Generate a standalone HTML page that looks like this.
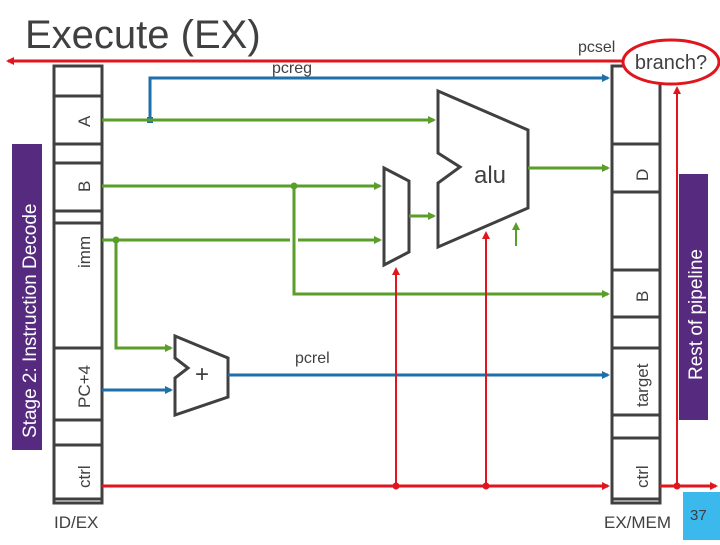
<!DOCTYPE html>
<html><head><style>
body{margin:0;width:720px;height:540px;background:#fff;overflow:hidden;font-family:"Liberation Sans",sans-serif}
</style></head><body>
<svg width="720" height="540" viewBox="0 0 720 540" xmlns="http://www.w3.org/2000/svg" font-family="Liberation Sans, sans-serif">
<defs>
<marker id="ag" markerWidth="8" markerHeight="8" refX="6" refY="4" orient="auto" markerUnits="userSpaceOnUse"><path d="M0,0 L8,4 L0,8 z" fill="#5a9e2a"/></marker>
<marker id="ab" markerWidth="8" markerHeight="8" refX="6" refY="4" orient="auto" markerUnits="userSpaceOnUse"><path d="M0,0 L8,4 L0,8 z" fill="#1f6fa8"/></marker>
<marker id="ar" markerWidth="8" markerHeight="8" refX="6" refY="4" orient="auto" markerUnits="userSpaceOnUse"><path d="M0,0 L8,4 L0,8 z" fill="#e0161e"/></marker>
</defs>
<text x="25" y="48" font-size="40" fill="#404040">Execute (EX)</text>
<rect x="12" y="144" width="30" height="306" fill="#562a7f"/>
<text transform="translate(36,438) rotate(-90)" font-size="19" fill="#fff">Stage 2: Instruction Decode</text>
<rect x="679" y="174" width="29" height="246" fill="#562a7f"/>
<text transform="translate(702,380) rotate(-90)" font-size="19" fill="#fff">Rest of pipeline</text>
<g fill="none" stroke="#404040" stroke-width="3">
<rect x="54" y="66" width="48" height="437"/>
<path d="M54,96H102M54,144H102M54,163H102M54,211H102M54,223H102M54,348H102M54,420H102M54,445H102M54,499H102"/>
<rect x="612" y="66" width="48" height="437"/>
<path d="M612,144H660M612,192H660M612,270H660M612,317H660M612,348H660M612,415H660M612,438H660M612,499H660"/>
</g>
<g font-size="17" fill="#404040">
<text transform="translate(90,127) rotate(-90)">A</text>
<text transform="translate(90,192) rotate(-90)">B</text>
<text transform="translate(90,268) rotate(-90)">imm</text>
<text transform="translate(90,408) rotate(-90)">PC+4</text>
<text transform="translate(90,488) rotate(-90)">ctrl</text>
<text transform="translate(648,181) rotate(-90)">D</text>
<text transform="translate(648,302) rotate(-90)">B</text>
<text transform="translate(648,407) rotate(-90)">target</text>
<text transform="translate(648,488) rotate(-90)">ctrl</text>
</g>
<text x="54" y="528" font-size="17" fill="#404040">ID/EX</text>
<text x="604" y="528" font-size="17" fill="#404040">EX/MEM</text>
<rect x="683" y="492" width="37" height="48" fill="#3bb8ec"/>
<text x="690" y="520" font-size="15" fill="#404040">37</text>
<line x1="622" y1="61" x2="8" y2="61" stroke="#e0161e" stroke-width="3" marker-end="url(#ar)"/>
<text x="578" y="52" font-size="16" fill="#404040">pcsel</text>
<ellipse cx="671" cy="62" rx="48" ry="22" fill="#fff" stroke="#e0161e" stroke-width="3"/>
<text x="671" y="69" font-size="20" fill="#404040" text-anchor="middle">branch?</text>
<path d="M150,120V78H608" fill="none" stroke="#1f6fa8" stroke-width="3" marker-end="url(#ab)"/>
<rect x="147" y="117" width="6" height="6" fill="#1f6fa8"/>
<text x="272" y="73" font-size="16" fill="#404040">pcreg</text>
<path d="M438,91L528,130V208L438,247V183L460,167L438,153Z" fill="#fff" stroke="#404040" stroke-width="3"/>
<text x="474" y="183" font-size="24" fill="#404040">alu</text>
<path d="M384,168L409,181V252L384,265Z" fill="#fff" stroke="#404040" stroke-width="3"/>
<path d="M175,336L228,358V397L175,415V378L188,368L175,358Z" fill="#fff" stroke="#404040" stroke-width="3"/>
<text x="202" y="382" font-size="24" fill="#404040" text-anchor="middle">+</text>
<g fill="none" stroke="#5a9e2a" stroke-width="3">
<line x1="102" y1="120" x2="434" y2="120" marker-end="url(#ag)"/>
<line x1="528" y1="168" x2="608" y2="168" marker-end="url(#ag)"/>
<line x1="102" y1="186" x2="380" y2="186" marker-end="url(#ag)"/>
<line x1="409" y1="216" x2="434" y2="216" marker-end="url(#ag)"/>
<path d="M102,240H290M298,240H380" marker-end="url(#ag)"/>
<path d="M294,186V294H608" marker-end="url(#ag)"/>
<path d="M116,240V348H171" marker-end="url(#ag)"/>
<line x1="516" y1="246" x2="516" y2="224" stroke-width="2" marker-end="url(#ag)"/>
</g>
<circle cx="294" cy="186" r="3.5" fill="#5a9e2a"/>
<circle cx="116" cy="240" r="3.5" fill="#5a9e2a"/>
<line x1="102" y1="390" x2="171" y2="390" stroke="#1f6fa8" stroke-width="3" marker-end="url(#ab)"/>
<line x1="228" y1="375" x2="608" y2="375" stroke="#1f6fa8" stroke-width="3" marker-end="url(#ab)"/>
<text x="295" y="363" font-size="16" fill="#404040">pcrel</text>
<g fill="none" stroke="#e0161e">
<line x1="102" y1="486" x2="608" y2="486" stroke-width="3" marker-end="url(#ar)"/>
<line x1="660" y1="486" x2="716" y2="486" stroke-width="3" marker-end="url(#ar)"/>
<line x1="396" y1="486" x2="396" y2="269" stroke-width="2" marker-end="url(#ar)"/>
<line x1="486" y1="486" x2="486" y2="233" stroke-width="2" marker-end="url(#ar)"/>
<line x1="677" y1="486" x2="677" y2="88" stroke-width="2" marker-end="url(#ar)"/>
</g>
<circle cx="396" cy="486" r="3.5" fill="#e0161e"/>
<circle cx="486" cy="486" r="3.5" fill="#e0161e"/>
<circle cx="677" cy="486" r="3.5" fill="#e0161e"/>
</svg>
</body></html>
